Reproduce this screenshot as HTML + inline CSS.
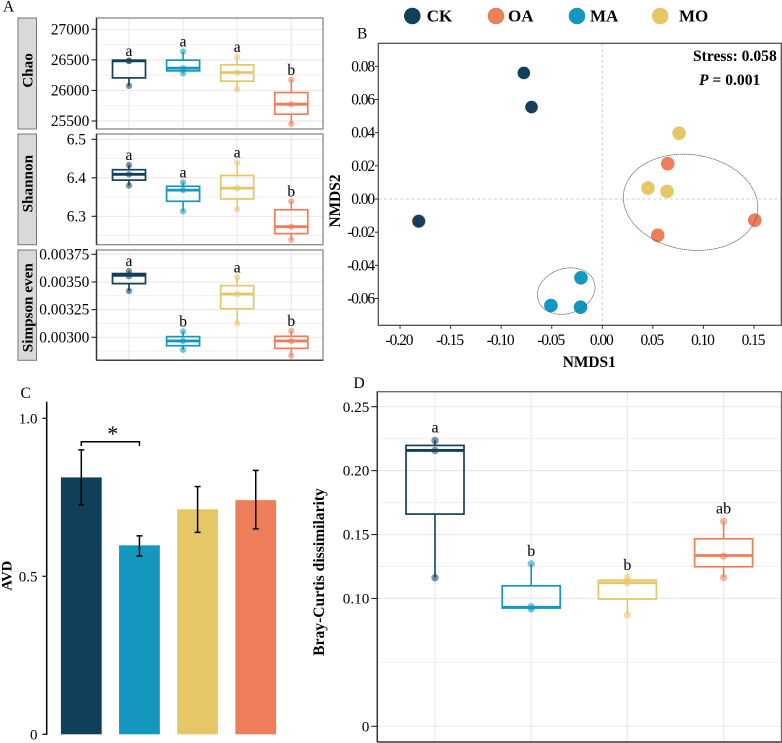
<!DOCTYPE html>
<html lang="en">
<head>
<meta charset="utf-8">
<title>Microbial diversity panels</title>
<style>
html,body{margin:0;padding:0;background:#fff;width:782px;height:743px;overflow:hidden}
svg{display:block;font-family:"Liberation Serif",serif}
</style>
</head>
<body>
<svg id="figure" width="782" height="743" viewBox="0 0 782 743" xmlns="http://www.w3.org/2000/svg">
  <g id="legend"></g>
  <g id="panelA"></g>
  <g id="panelB"></g>
  <g id="panelC"></g>
  <g id="panelD"></g>
</svg>
<script>
/* ---------- data ---------- */
const boxGroups = ['CK','MA','MO','OA'];
const legendGroups = ['CK','OA','MA','MO'];

const chaoTicks = [25500,26000,26500,27000];
const chaoMinor = [25750,26250,26750];
const chaoQ1 = [26205,26320,26151,25611];
const chaoMedian = [26484,26364,26293,25775];
const chaoQ3 = [26495,26495,26418,25965];
const chaoPoints = [[26484,26484,26075],[26636,26364,26282],[26549,26293,26020],[26173,25775,25453]];
const chaoLetters = ['a','a','a','b'];

const shannonTicks = [6.3,6.4,6.5];
const shannonMinor = [6.25,6.35,6.45];
const shannonQ1 = [6.394,6.339,6.345,6.255];
const shannonMedian = [6.409,6.368,6.373,6.273];
const shannonQ3 = [6.421,6.378,6.406,6.317];
const shannonPoints = [[6.433,6.409,6.380],[6.388,6.368,6.313],[6.440,6.373,6.318],[6.339,6.273,6.239]];
const shannonLetters = ['a','a','a','b'];

const simpsonTicks = [0.003,0.00325,0.0035,0.00375];
const simpsonMinor = [0.002875,0.003125,0.003375,0.003625];
const simpsonQ1 = [0.003485,0.002924,0.003258,0.0029];
const simpsonMedian = [0.00356,0.002967,0.003391,0.002967];
const simpsonQ3 = [0.003576,0.003006,0.003467,0.003009];
const simpsonPoints = [[0.003597,0.003552,0.003418],[0.003052,0.002967,0.002888],[0.003542,0.003391,0.003127],[0.003058,0.002967,0.002833]];
const simpsonLetters = ['a','b','a','b'];

const nmdsXTicks = [-0.20,-0.15,-0.10,-0.05,0,0.05,0.10,0.15];
const nmdsYTicks = [-0.06,-0.04,-0.02,0,0.02,0.04,0.06,0.08];
const nmdsOA = [[-0.1815,-0.0134],[0.0647,0.0213],[0.0548,-0.0219],[0.1508,-0.0128]];
const nmdsCK = [[-0.0776,0.0760],[-0.0700,0.0554],[-0.1815,-0.0134]];
const nmdsMA = [[-0.0211,-0.0475],[-0.0508,-0.0642],[-0.0215,-0.0652]];
const nmdsMO = [[0.0759,0.0397],[0.0452,0.0066],[0.0640,0.0046]];
const ellipseCentersX = [0.0873,-0.0357];
const ellipseCentersY = [-0.002,-0.0555];
const ellipseHalfX = [0.0665,0.0285];
const ellipseHalfY = [0.029,0.014];
const ellipseCorr = [-0.104,0.165];

const avdGroups = ['CK','MA','MO','OA'];
const avdTicks = [0,0.5,1.0];
const avdTickLabels = ['0','0.5','1.0'];
const avdValues = [0.813,0.598,0.712,0.741];
const avdErrLow = [0.726,0.564,0.639,0.650];
const avdErrHigh = [0.900,0.628,0.784,0.835];

const brayTicks = [0,0.10,0.15,0.20,0.25];
const brayTickLabels = ['0','0.10','0.15','0.20','0.25'];
const brayMinor = [0.05,0.125,0.175,0.225];
const brayQ1 = [0.166,0.0925,0.0995,0.1248];
const brayMedian = [0.2158,0.0931,0.1123,0.1336];
const brayQ3 = [0.2197,0.1099,0.1143,0.1467];
const brayPoints = [[0.2236,0.2158,0.1162],[0.1271,0.0935,0.0918],[0.1164,0.1123,0.0871],[0.1603,0.1331,0.1164]];
const brayLetters = ['a','b','b','ab'];

/* ---------- helpers ---------- */
const groupColor = {CK:'#12405a',MA:'#1397be',MO:'#e5c767',OA:'#ee7d59'};
const NS = 'http://www.w3.org/2000/svg';
function mk(tag, attrs, parent, txt){
  const e = document.createElementNS(NS, tag);
  for(const k in attrs){ e.setAttribute(k, attrs[k]); }
  if(txt !== undefined){ e.textContent = txt; }
  parent.appendChild(e);
  return e;
}
function line(parent,x1,y1,x2,y2,stroke,w,extra){
  return mk('line',Object.assign({x1:x1,y1:y1,x2:x2,y2:y2,stroke:stroke,'stroke-width':w},extra||{}),parent);
}
function linear(d0,r0,d1,r1){ return v => r0 + (v-d0)*(r1-r0)/(d1-d0); }

function drawBoxes(p, o){
  const root = o.root;
  /* gridlines */
  o.minor.forEach(v=>{
    const el = line(root,p.x0,o.y(v),p.x1,o.y(v),'#efefef',1);
    
    
  });
  o.ticks.forEach(v=>{
    const el = line(root,p.x0,o.y(v),p.x1,o.y(v),'#e9e9e9',1.2);
    
    
  });
  o.groups.forEach((g,i)=>{
    const el = line(root,o.x(i),p.y0,o.x(i),p.y1,'#e9e9e9',1.2);
    
    
  });
  /* boxes */
  o.groups.forEach((g,i)=>{
    const c = groupColor[g], cx = o.x(i), hw = o.boxW/2;
    const gEl = mk('g',{},root);
    
    
    const pts = o.points[i];
    const hi = Math.max.apply(null,pts), lo = Math.min.apply(null,pts);
    if(hi > o.q3[i]){ line(gEl,cx,o.y(o.q3[i]),cx,o.y(hi),c,1.6); }
    if(lo < o.q1[i]){ line(gEl,cx,o.y(o.q1[i]),cx,o.y(lo),c,1.6); }
    mk('rect',{x:cx-hw,y:o.y(o.q3[i]),width:hw*2,height:o.y(o.q1[i])-o.y(o.q3[i]),fill:'none',stroke:c,'stroke-width':1.7},gEl);
    line(gEl,cx-hw,o.y(o.med[i]),cx+hw,o.y(o.med[i]),c,2.8);
    pts.forEach(v=>{
      const pt = mk('circle',{cx:cx,cy:o.y(v),r:o.r,fill:c,'fill-opacity':0.55},gEl);
      
      
    });
    const lab = mk('text',{x:cx,y:o.y(hi)-o.letterGap,'text-anchor':'middle','font-size':o.letterSize,fill:'#000'},gEl,o.letters[i]);
    
    
  });
  /* frame */
  const fr = mk('rect',{x:p.x0,y:p.y0,width:p.x1-p.x0,height:p.y1-p.y0,fill:'none',stroke:o.frame,'stroke-width':1.3},root);
  
  
  const ax = line(root,p.x0,p.y0,p.x0,p.y1,'#333',1.4);
  
  
  if(o.bottomDark){
    const bx = line(root,p.x0,p.y1,p.x1,p.y1,'#444',1.5);
    
    
  }
  /* ticks */
  o.ticks.forEach((v,i)=>{
    const tk = line(root,p.x0-o.tickLen,o.y(v),p.x0,o.y(v),'#222',1.1);
    
    
    const t = mk('text',{x:o.labelX,y:o.y(v)+5.1,'text-anchor':'end','font-size':o.labelSize,fill:'#000'},root,o.labels[i]);
    
    
  });
}

/* ---------- panel letters + legend ---------- */
const svg = document.getElementById('figure');
[['A',3,11.7,15.5],['B',357,38.7,15.5],['C',20.5,398,15.5],['D',353.5,388,15.5]].forEach(a=>{
  const t = mk('text',{x:a[1],y:a[2],'font-size':a[3],fill:'#000'},svg,a[0]);
  
  
});
const legendRoot = document.getElementById('legend');
const legendCx = {CK:412.3,OA:496,MA:577,MO:660.3};
const legendTx = {CK:426.7,OA:508,MA:590,MO:679};
legendGroups.forEach(g=>{
  const c = mk('circle',{cx:legendCx[g],cy:16,r:8.3,fill:groupColor[g]},legendRoot);
  
  
  const t = mk('text',{x:legendTx[g],y:21.5,'font-size':17,'font-weight':'bold',fill:'#000'},legendRoot,g);
  
  
});

/* ---------- panel A ---------- */
const A = document.getElementById('panelA');
const catAx = i => 129 + i*54.1;
function strip(y0,y1,label,cy){
  const r = mk('rect',{x:18,y:y0,width:18.5,height:y1-y0,fill:'#d9d9d9',stroke:'#777','stroke-width':1},A);
  
  
  const t = mk('text',{x:0,y:0,transform:'translate(32.3,'+cy+') rotate(-90)','text-anchor':'middle','font-size':15.2,'font-weight':'bold',fill:'#000'},A,label);
  
  
}
strip(18,129,'Chao',70.5);
strip(134,244.7,'Shannon',183.7);
strip(250,360.3,'Simpson even',307.7);

drawBoxes({x0:96.5,x1:323,y0:18,y1:129},{
  root:A,name:'chao',groups:boxGroups,x:catAx,y:linear(25500,121,27000,29.3),
  ticks:chaoTicks,labels:chaoTicks.map(String),minor:chaoMinor,
  q1:chaoQ1,med:chaoMedian,q3:chaoQ3,points:chaoPoints,letters:chaoLetters,
  boxW:33,r:3.2,letterGap:5,letterSize:15.5,frame:'#888',tickLen:5,labelX:89.3,labelSize:15.4
});
drawBoxes({x0:96.5,x1:323,y0:134,y1:244.7},{
  root:A,name:'shannon',groups:boxGroups,x:catAx,y:linear(6.3,216.3,6.5,139.3),
  ticks:shannonTicks,labels:shannonTicks.map(v=>v.toFixed(1)),minor:shannonMinor,
  q1:shannonQ1,med:shannonMedian,q3:shannonQ3,points:shannonPoints,letters:shannonLetters,
  boxW:33,r:3.2,letterGap:5,letterSize:15.5,frame:'#888',tickLen:5,labelX:86,labelSize:15.4
});
drawBoxes({x0:96.5,x1:323,y0:250,y1:360.3},{
  root:A,name:'simpson',groups:boxGroups,x:catAx,y:linear(0.003,337.3,0.00375,254.3),
  ticks:simpsonTicks,labels:simpsonTicks.map(v=>v.toFixed(5)),minor:simpsonMinor,
  q1:simpsonQ1,med:simpsonMedian,q3:simpsonQ3,points:simpsonPoints,letters:simpsonLetters,
  boxW:33,r:3.2,letterGap:5,letterSize:15.5,frame:'#888',bottomDark:true,tickLen:5,labelX:89.3,labelSize:15.4
});

/* ---------- panel B ---------- */
const B = document.getElementById('panelB');
const bx = linear(0,602.3,0.15,754);
const by = linear(0,199,0.08,66.3);
const bFrame = {x0:378.3,x1:781.3,y0:43.3,y1:325.3};
const zeroV = line(B,bx(0),bFrame.y0,bx(0),bFrame.y1,'#ccc',1,{'stroke-dasharray':'3 2.5'});


const zeroH = line(B,bFrame.x0,by(0),bFrame.x1,by(0),'#ccc',1,{'stroke-dasharray':'3 2.5'});


function nmdsSeries(arr,g,r){
  arr.forEach(d=>{
    const c = mk('circle',{cx:bx(d[0]),cy:by(d[1]),r:r,fill:groupColor[g]},B);
    
    
  });
}
nmdsSeries(nmdsOA,'OA',6.8);
nmdsSeries(nmdsMO,'MO',6.8);
nmdsSeries(nmdsMA,'MA',6.8);
nmdsSeries(nmdsCK,'CK',6.3);
ellipseCentersX.forEach((cx,i)=>{
  const phi = Math.acos(ellipseCorr[i]);
  let dStr = '';
  for(let k=0;k<=120;k++){
    const t = k/120*2*Math.PI;
    const px = bx(cx + ellipseHalfX[i]*Math.cos(t));
    const py = by(ellipseCentersY[i] + ellipseHalfY[i]*Math.cos(t+phi));
    dStr += (k?'L':'M') + px.toFixed(2) + ' ' + py.toFixed(2);
  }
  const e = mk('path',{d:dStr+'Z',fill:'none',stroke:'#555','stroke-width':0.7,'stroke-dasharray':'1.6 0.5'},B);
  
  
});
const bBorder = mk('rect',{x:bFrame.x0,y:bFrame.y0,width:bFrame.x1-bFrame.x0,height:bFrame.y1-bFrame.y0,fill:'none',stroke:'#444','stroke-width':1.2},B);


nmdsXTicks.forEach(v=>{
  const tk = line(B,bx(v),bFrame.y1,bx(v),bFrame.y1+3.5,'#333',1);
  
  
  const t = mk('text',{x:bx(v)-1,y:345,'text-anchor':'middle','font-size':15.5,'letter-spacing':-1.1,fill:'#000'},B,v.toFixed(2));
  
  
});
nmdsYTicks.forEach(v=>{
  const tk = line(B,bFrame.x0-3.5,by(v),bFrame.x0,by(v),'#333',1);
  
  
  const t = mk('text',{x:374,y:by(v)+5,'text-anchor':'end','font-size':15.5,'letter-spacing':-1.1,fill:'#000'},B,v.toFixed(2));
  
  
});
const nx = mk('text',{x:589.3,y:367,'text-anchor':'middle','font-size':15.4,'font-weight':'bold',fill:'#000'},B,'NMDS1');


const ny = mk('text',{x:0,y:0,transform:'translate(340,201) rotate(-90)','text-anchor':'middle','font-size':15.4,'font-weight':'bold',fill:'#000'},B,'NMDS2');


const st = mk('text',{x:693,y:61,'font-size':15.6,'font-weight':'bold',fill:'#000'},B,'Stress: 0.058');


const pv = mk('text',{x:699,y:85,'font-size':15.6,'font-weight':'bold',fill:'#000'},B);


mk('tspan',{'font-style':'italic'},pv,'P');
mk('tspan',{},pv,' = 0.001');

/* ---------- panel C ---------- */
const C = document.getElementById('panelC');
const cy = linear(0,734.3,1,418.3);
const cx = i => 81.3 + i*58.15;
const barW = 40.8;
avdGroups.forEach((g,i)=>{
  const r = mk('rect',{x:cx(i)-barW/2,y:cy(avdValues[i]),width:barW,height:cy(0)-cy(avdValues[i]),fill:groupColor[g]},C);
  
  
  const e = mk('g',{},C);
  
  
  line(e,cx(i),cy(avdErrHigh[i]),cx(i),cy(avdErrLow[i]),'#000',1.5);
  line(e,cx(i)-3,cy(avdErrHigh[i]),cx(i)+3,cy(avdErrHigh[i]),'#000',1.5);
  line(e,cx(i)-3,cy(avdErrLow[i]),cx(i)+3,cy(avdErrLow[i]),'#000',1.5);
});
const cAxis = line(C,46.7,401.7,46.7,734.8,'#000',1.5);


avdTicks.forEach((v,i)=>{
  const tk = line(C,42.5,cy(v),46.7,cy(v),'#000',1.2);
  
  
  const t = mk('text',{x:37.5,y:cy(v)+5,'text-anchor':'end','font-size':15,fill:'#000'},C,avdTickLabels[i]);
  
  
});
const br = mk('path',{d:'M'+cx(0)+' 446V441.7H'+cx(1)+'V446',fill:'none',stroke:'#000','stroke-width':1.5},C);


const star = mk('text',{x:(cx(0)+cx(1))/2+2.4,y:441,'text-anchor':'middle','font-size':22,fill:'#000'},C,'*');


const cTitle = mk('text',{x:0,y:0,transform:'translate(11.5,575.7) rotate(-90)','text-anchor':'middle','font-size':14.6,'font-weight':'bold',fill:'#000'},C,'AVD');



/* ---------- panel D ---------- */
const D = document.getElementById('panelD');
drawBoxes({x0:377.3,x1:781.5,y0:391.7,y1:742},{
  root:D,name:'bray',groups:boxGroups,x:i=>435+i*96.2,y:linear(0,726.3,0.25,406.7),
  ticks:brayTicks,labels:brayTickLabels,minor:brayMinor,
  q1:brayQ1,med:brayMedian,q3:brayQ3,points:brayPoints,letters:brayLetters,
  boxW:58,r:3.7,letterGap:7.7,letterSize:16,frame:'#666',bottomDark:true,tickLen:6,labelX:369.3,labelSize:15.2
});
const dTitle = mk('text',{x:0,y:0,transform:'translate(324,572) rotate(-90)','text-anchor':'middle','font-size':15.6,'font-weight':'bold',fill:'#000'},D,'Bray-Curtis dissimilarity');


</script>
</body>
</html>
